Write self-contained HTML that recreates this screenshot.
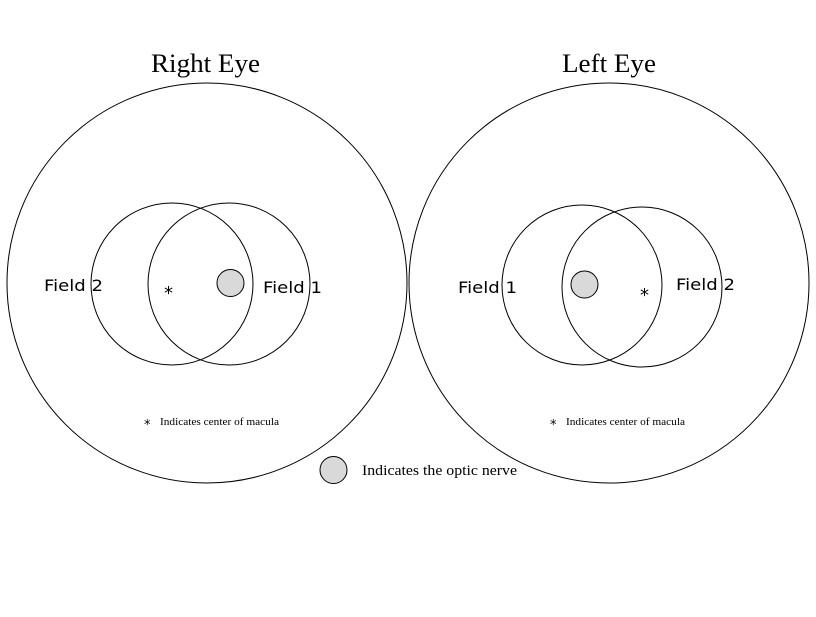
<!DOCTYPE html>
<html><head><style>body{margin:0;background:#fff}</style></head><body>
<svg width="816" height="612" xmlns="http://www.w3.org/2000/svg">
<rect width="816" height="612" fill="#fff"/>
<g fill="none" stroke="#000" stroke-width="1">
<circle cx="207" cy="283" r="200"/>
<circle cx="609" cy="283" r="200"/>
<circle cx="172" cy="284" r="81"/>
<circle cx="229" cy="284" r="81"/>
<circle cx="582" cy="285" r="80"/>
<circle cx="642" cy="287" r="80"/>
</g>
<g fill="#d9d9d9" stroke="#000">
<circle cx="230.5" cy="283" r="13.5"/>
<circle cx="584.5" cy="284.5" r="13.5"/>
<circle cx="333.5" cy="470" r="13.5"/>
</g>
<g font-family="Liberation Serif, serif" fill="#000">
<text x="151" y="72" font-size="26" textLength="109" lengthAdjust="spacingAndGlyphs">Right Eye</text>
<text x="562" y="72" font-size="26" textLength="94" lengthAdjust="spacingAndGlyphs">Left Eye</text>
<text x="362" y="475" font-size="15" textLength="155" lengthAdjust="spacingAndGlyphs">Indicates the optic nerve</text>
<text x="160" y="425" font-size="10" textLength="119" lengthAdjust="spacingAndGlyphs">Indicates center of macula</text>
<text x="566" y="425" font-size="10" textLength="119" lengthAdjust="spacingAndGlyphs">Indicates center of macula</text>
</g>
<g font-family="DejaVu Sans, sans-serif" fill="#000">
<text x="44" y="291" font-size="16" textLength="59" lengthAdjust="spacingAndGlyphs">Field 2</text>
<text x="263" y="293" font-size="16" textLength="59" lengthAdjust="spacingAndGlyphs">Field 1</text>
<text x="458" y="293" font-size="16" textLength="59" lengthAdjust="spacingAndGlyphs">Field 1</text>
<text x="676" y="290" font-size="16" textLength="59" lengthAdjust="spacingAndGlyphs">Field 2</text>
<text x="164" y="299" font-size="18">*</text>
<text x="640" y="301" font-size="18">*</text>
<text x="144" y="429" font-size="13">*</text>
<text x="550" y="429" font-size="13">*</text>
</g>
</svg>
</body></html>
